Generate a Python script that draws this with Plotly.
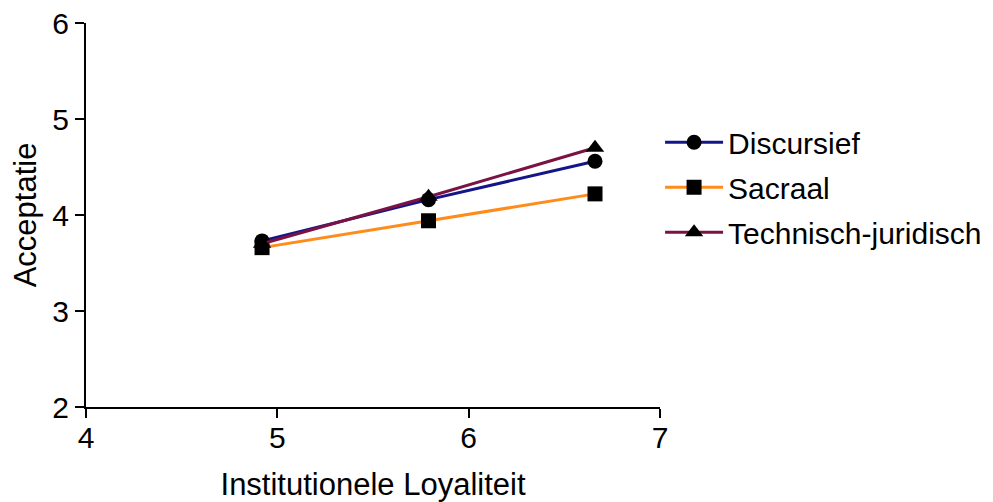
import plotly.graph_objects as go

x_vals = [4.92, 5.79, 6.66]
discursief = [3.73, 4.16, 4.56]
sacraal = [3.66, 3.94, 4.22]
technisch = [3.70, 4.19, 4.70]

series = [
    ("Discursief", discursief, "#15158a", "circle", 15),
    ("Sacraal", sacraal, "#ff8c1a", "square", 15),
    ("Technisch-juridisch", technisch, "#7a1244", "triangle-up", 16),
]

fig = go.Figure()
for name, vals, color, sym, sz in series:
    fig.add_trace(go.Scatter(
        x=x_vals, y=vals, name=name, mode="lines+markers",
        line=dict(color=color, width=3),
        marker=dict(symbol=sym, color="black", size=sz),
        legendgroup=name,
    ))

font_family = "Liberation Sans, Arial, sans-serif"
fig.update_layout(
    width=985, height=494,
    margin=dict(l=78, r=325, t=15, b=95),
    paper_bgcolor="white", plot_bgcolor="white",
    font=dict(family=font_family, size=30, color="black"),
    showlegend=True,
    legend=dict(xref="container", x=0.662, y=0.757, xanchor="left", yanchor="top",
                font=dict(size=30), tracegroupgap=3, traceorder="grouped",
                itemwidth=58, bgcolor="rgba(0,0,0,0)"),
    xaxis=dict(range=[4, 7], tickvals=[4, 5, 6, 7], showgrid=False, zeroline=False,
               showline=True, linecolor="black", linewidth=2, ticks="outside",
               ticklen=9, tickwidth=2, tickcolor="black", automargin=False,
               ticklabelstandoff=-6, ticklabeloverflow="allow",
               title=dict(text="Institutionele Loyaliteit", font=dict(size=31), standoff=20),
               tickfont=dict(size=30)),
    yaxis=dict(range=[2, 6], tickvals=[2, 3, 4, 5, 6], showgrid=False, zeroline=False,
               showline=True, linecolor="black", linewidth=2, ticks="outside",
               ticklen=9, tickwidth=2, tickcolor="black", automargin=False,
               ticklabeloverflow="allow",
               title=dict(text="Acceptatie", font=dict(size=31), standoff=14),
               tickfont=dict(size=30)),
)

fig.write_html("out.html")
